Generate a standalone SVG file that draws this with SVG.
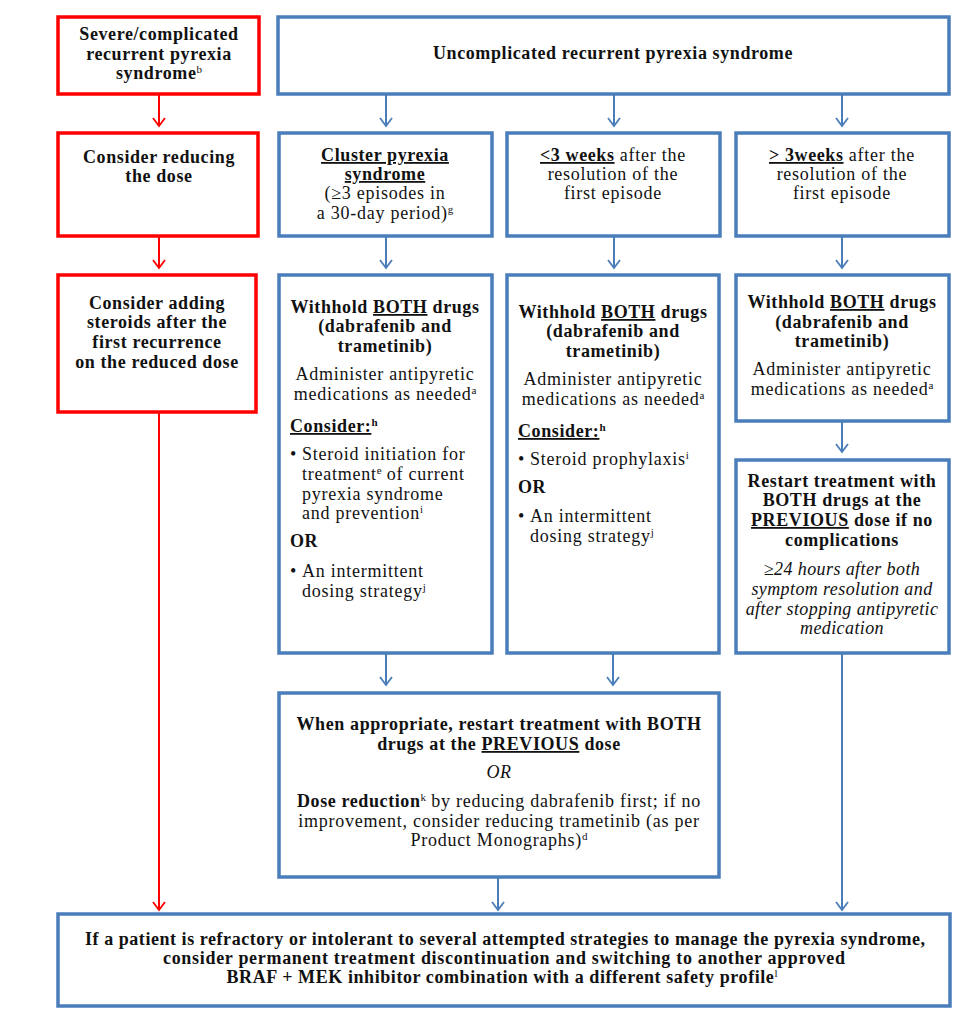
<svg xmlns="http://www.w3.org/2000/svg" width="975" height="1017" viewBox="0 0 975 1017">
<style>
text{font-family:"Liberation Serif","Times New Roman",serif;font-size:18px;letter-spacing:0.75px;fill:#111;}
.c{text-anchor:middle;}
.b{font-weight:bold;letter-spacing:0.6px;}
.i{font-style:italic;letter-spacing:0.4px;}
.u{text-decoration:underline;}
.sup{font-size:11px;letter-spacing:0;}
.red{fill:#fff;stroke:#ff0000;stroke-width:3.5;}
.blue{fill:#fff;stroke:#4a7ebb;stroke-width:3.5;}
.lr{stroke:#ff0000;stroke-width:2;fill:none;}
.lb{stroke:#4a7ebb;stroke-width:2;fill:none;}
.bt{font-weight:bold;letter-spacing:0;}
</style>
<defs>
<marker id="ar" viewBox="-10 -8 12 16" refX="0" refY="0" markerWidth="12" markerHeight="16" markerUnits="userSpaceOnUse" orient="auto">
<path d="M-8,-6 L0,0 L-8,6" fill="none" stroke="#ff0000" stroke-width="1.8"/>
</marker>
<marker id="ab" viewBox="-10 -8 12 16" refX="0" refY="0" markerWidth="12" markerHeight="16" markerUnits="userSpaceOnUse" orient="auto">
<path d="M-8,-6 L0,0 L-8,6" fill="none" stroke="#4a7ebb" stroke-width="1.8"/>
</marker>
</defs>
<rect width="975" height="1017" fill="#fff"/>

<g id="connectors">
<line class="lr" x1="159" y1="95" x2="159" y2="126" marker-end="url(#ar)"/>
<line class="lr" x1="159" y1="237" x2="159" y2="268" marker-end="url(#ar)"/>
<line class="lr" x1="159" y1="413" x2="159" y2="910" marker-end="url(#ar)"/>
<line class="lb" x1="386" y1="95" x2="386" y2="126" marker-end="url(#ab)"/>
<line class="lb" x1="614" y1="95" x2="614" y2="126" marker-end="url(#ab)"/>
<line class="lb" x1="842" y1="95" x2="842" y2="126" marker-end="url(#ab)"/>
<line class="lb" x1="386" y1="237" x2="386" y2="268" marker-end="url(#ab)"/>
<line class="lb" x1="614" y1="237" x2="614" y2="268" marker-end="url(#ab)"/>
<line class="lb" x1="842" y1="237" x2="842" y2="268" marker-end="url(#ab)"/>
<line class="lb" x1="842" y1="422" x2="842" y2="452" marker-end="url(#ab)"/>
<line class="lb" x1="386" y1="654" x2="386" y2="685" marker-end="url(#ab)"/>
<line class="lb" x1="613" y1="654" x2="613" y2="685" marker-end="url(#ab)"/>
<line class="lb" x1="498" y1="878" x2="498" y2="910" marker-end="url(#ab)"/>
<line class="lb" x1="842" y1="654" x2="842" y2="910" marker-end="url(#ab)"/>
</g>

<g id="severe">
<rect class="red" x="58" y="17" width="201" height="77"/>
<text class="c b" x="159" y="40">Severe/complicated</text>
<text class="c b" x="159" y="60">recurrent pyrexia</text>
<text class="c b" x="159" y="79">syndrome<tspan class="sup" dy="-6" font-weight="normal">b</tspan></text>
</g>

<g id="uncomplicated">
<rect class="blue" x="278" y="17" width="671" height="77"/>
<text class="c b" x="613" y="59">Uncomplicated recurrent pyrexia syndrome</text>
</g>

<g id="reduce-dose">
<rect class="red" x="58" y="133" width="200" height="103"/>
<text class="c b" x="159" y="163">Consider reducing</text>
<text class="c b" x="159" y="182">the dose</text>
</g>

<g id="cluster">
<rect class="blue" x="279" y="133" width="213" height="103"/>
<text class="c b u" x="385" y="161">Cluster pyrexia</text>
<text class="c b u" x="385" y="180">syndrome</text>
<text class="c" x="385" y="199">(≥3 episodes  in</text>
<text class="c" x="385" y="219">a 30-day period)<tspan class="sup" dy="-6">g</tspan></text>
</g>

<g id="lt3weeks">
<rect class="blue" x="507" y="133" width="213" height="103"/>
<text class="c" x="613" y="161"><tspan class="b u">&lt;3 weeks</tspan> after the</text>
<text class="c" x="613" y="180">resolution of the</text>
<text class="c" x="613" y="199">first episode</text>
</g>

<g id="gt3weeks">
<rect class="blue" x="736" y="133" width="213" height="103"/>
<text class="c" x="842" y="161"><tspan class="b u">&gt; 3weeks</tspan> after the</text>
<text class="c" x="842" y="180">resolution of the</text>
<text class="c" x="842" y="199">first episode</text>
</g>

<g id="add-steroids">
<rect class="red" x="58" y="275" width="198" height="137"/>
<text class="c b" x="157" y="309">Consider adding</text>
<text class="c b" x="157" y="328">steroids after the</text>
<text class="c b" x="157" y="348">first recurrence</text>
<text class="c b" x="157" y="368">on the reduced dose</text>
</g>

<g id="withhold-cluster">
<rect class="blue" x="279" y="275" width="213" height="378"/>
<text class="c b" x="385" y="313">Withhold <tspan class="u">BOTH</tspan> drugs</text>
<text class="c b" x="385" y="332">(dabrafenib and</text>
<text class="c b" x="385" y="352">trametinib)</text>
<text class="c" x="385" y="380">Administer antipyretic</text>
<text class="c" x="385" y="400">medications as needed<tspan class="sup" dy="-6">a</tspan></text>
<text class="b" x="290" y="432"><tspan class="u">Consider:</tspan><tspan class="sup" dy="-6">h</tspan></text>
<text x="290" y="460">•</text>
<text x="302" y="460">Steroid initiation for</text>
<text x="302" y="480">treatment<tspan class="sup" dy="-6">e</tspan><tspan dy="6"> of current</tspan></text>
<text x="302" y="500">pyrexia syndrome</text>
<text x="302" y="519">and prevention<tspan class="sup" dy="-6">i</tspan></text>
<text class="b" x="290" y="547">OR</text>
<text x="290" y="577">•</text>
<text x="302" y="577">An intermittent</text>
<text x="302" y="597">dosing strategy<tspan class="sup" dy="-6">j</tspan></text>
</g>

<g id="withhold-lt3">
<rect class="blue" x="507" y="275" width="212" height="378"/>
<text class="c b" x="613" y="318">Withhold <tspan class="u">BOTH</tspan> drugs</text>
<text class="c b" x="613" y="337">(dabrafenib and</text>
<text class="c b" x="613" y="357">trametinib)</text>
<text class="c" x="613" y="385">Administer antipyretic</text>
<text class="c" x="613" y="405">medications as needed<tspan class="sup" dy="-6">a</tspan></text>
<text class="b" x="518" y="437"><tspan class="u">Consider:</tspan><tspan class="sup" dy="-6">h</tspan></text>
<text x="518" y="465">•</text>
<text x="530" y="465">Steroid prophylaxis<tspan class="sup" dy="-6">i</tspan></text>
<text class="b" x="518" y="493">OR</text>
<text x="518" y="522">•</text>
<text x="530" y="522">An intermittent</text>
<text x="530" y="542">dosing strategy<tspan class="sup" dy="-6">j</tspan></text>
</g>

<g id="withhold-gt3">
<rect class="blue" x="736" y="275" width="213" height="146"/>
<text class="c b" x="842" y="308">Withhold <tspan class="u">BOTH</tspan> drugs</text>
<text class="c b" x="842" y="328">(dabrafenib and</text>
<text class="c b" x="842" y="347">trametinib)</text>
<text class="c" x="842" y="375">Administer antipyretic</text>
<text class="c" x="842" y="395">medications as needed<tspan class="sup" dy="-6">a</tspan></text>
</g>

<g id="restart-previous">
<rect class="blue" x="736" y="460" width="213" height="193"/>
<text class="c b" x="842" y="487">Restart treatment with</text>
<text class="c b" x="842" y="506">BOTH drugs at the</text>
<text class="c b" x="842" y="526"><tspan class="u">PREVIOUS</tspan> dose if no</text>
<text class="c b" x="842" y="546">complications</text>
<text class="c i" x="842" y="575">≥24 hours after both</text>
<text class="c i" x="842" y="595">symptom resolution and</text>
<text class="c i" x="842" y="615">after stopping antipyretic</text>
<text class="c i" x="842" y="634">medication</text>
</g>

<g id="restart-or-reduce">
<rect class="blue" x="279" y="693" width="440" height="184"/>
<text class="c b" x="499" y="730">When appropriate, restart treatment with BOTH</text>
<text class="c b" x="499" y="750">drugs at the <tspan class="u">PREVIOUS</tspan> dose</text>
<text class="c i" x="499" y="778">OR</text>
<text class="c" x="499" y="807"><tspan class="b">Dose reduction</tspan><tspan class="sup" dy="-6">k</tspan><tspan dy="6"> by reducing dabrafenib first; if no</tspan></text>
<text class="c" x="499" y="827">improvement, consider reducing trametinib (as per</text>
<text class="c" x="499" y="846">Product Monographs)<tspan class="sup" dy="-6">d</tspan></text>
</g>

<g id="refractory">
<rect class="blue" x="58" y="914" width="892" height="92"/>
<text class="c bt" x="505" y="945" textLength="840" lengthAdjust="spacing">If a patient is refractory or intolerant to several attempted strategies to manage the pyrexia syndrome,</text>
<text class="c bt" x="504" y="964" textLength="682" lengthAdjust="spacing">consider permanent treatment discontinuation and switching to another approved</text>
<text class="c bt" x="502" y="983" textLength="551" lengthAdjust="spacing">BRAF + MEK inhibitor combination with a different safety profile<tspan class="sup" dy="-6" font-weight="normal">l</tspan></text>
</g>
</svg>
